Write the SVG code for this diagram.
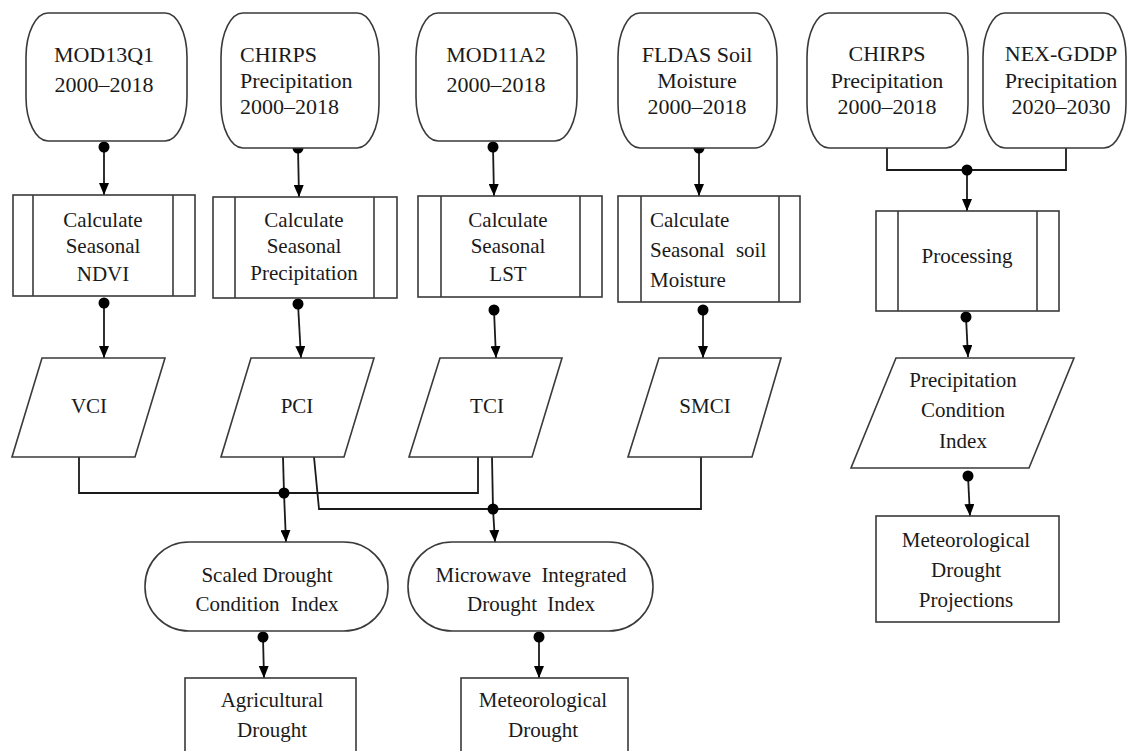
<svg xmlns="http://www.w3.org/2000/svg" width="1127" height="751" viewBox="0 0 1127 751" font-family="'Liberation Serif', 'Times New Roman', serif">
<style>
.sh{fill:#fff;stroke:#3a3a3a;stroke-width:1.6}
.ln{fill:none;stroke:#1a1a1a;stroke-width:1.8}
.ar{fill:none;stroke:#1a1a1a;stroke-width:1.8;marker-end:url(#ah)}
.dot{fill:#000}
text{font-size:21px;fill:#1a1a1a}
.t22{font-size:22px}
.c{text-anchor:middle}
</style>
<defs>
<marker id="ah" viewBox="0 0 12 10" refX="12" refY="5" markerWidth="12" markerHeight="10" markerUnits="userSpaceOnUse" orient="auto">
<path d="M0,0 L12,5 L0,10 z" fill="#000"/>
</marker>
</defs>
<rect width="1127" height="751" fill="#fff"/>

<g id="connectors">
<line class="ar" x1="104" y1="147" x2="104" y2="195"/><circle class="dot" cx="104" cy="147" r="5.5"/>
<line class="ar" x1="298" y1="148" x2="299" y2="197"/><circle class="dot" cx="298" cy="148" r="5.5"/>
<line class="ar" x1="493" y1="147" x2="494" y2="196"/><circle class="dot" cx="493" cy="147" r="5.5"/>
<line class="ar" x1="699" y1="148" x2="699" y2="196"/><circle class="dot" cx="699" cy="148" r="5.5"/>
<path class="ln" d="M887,141 V170 H1066 V141"/>
<line class="ar" x1="967" y1="170" x2="967" y2="211"/><circle class="dot" cx="967" cy="170" r="5.5"/>
<line class="ar" x1="104" y1="303" x2="104" y2="358"/><circle class="dot" cx="104" cy="303" r="5.5"/>
<line class="ar" x1="298" y1="304" x2="301" y2="358"/><circle class="dot" cx="298" cy="304" r="5.5"/>
<line class="ar" x1="494" y1="310" x2="496" y2="358"/><circle class="dot" cx="494" cy="310" r="5.5"/>
<line class="ar" x1="703" y1="310" x2="703" y2="358"/><circle class="dot" cx="703" cy="310" r="5.5"/>
<line class="ar" x1="966" y1="317" x2="968" y2="357"/><circle class="dot" cx="966" cy="317" r="5.5"/>
<path class="ln" d="M79,457 V493 H478 V457"/>
<line class="ln" x1="283" y1="457" x2="284" y2="493"/>
<line class="ar" x1="284" y1="493" x2="286" y2="542"/><circle class="dot" cx="284" cy="493" r="5.5"/>
<path class="ln" d="M314,457 L319,509 H701 V457"/>
<line class="ln" x1="492" y1="457" x2="493" y2="509"/>
<line class="ar" x1="493" y1="509" x2="495" y2="542"/><circle class="dot" cx="493" cy="509" r="5.5"/>
<line class="ar" x1="263" y1="637" x2="264" y2="678"/><circle class="dot" cx="263" cy="637" r="5.5"/>
<line class="ar" x1="539" y1="637" x2="539" y2="678"/><circle class="dot" cx="539" cy="637" r="5.5"/>
<line class="ar" x1="968" y1="476" x2="970" y2="516"/><circle class="dot" cx="968" cy="476" r="5.5"/>
</g>

<g id="mod13q1"><rect class="sh" x="26" y="13" width="161" height="128" rx="22" ry="44"/>
<text class="t22 c" x="104" y="62">MOD13Q1</text><text class="t22 c" x="104" y="92">2000–2018</text></g>
<g id="chirps1"><rect class="sh" x="221" y="13" width="158" height="135" rx="22" ry="44"/>
<text class="t22" x="240" y="62">CHIRPS</text><text class="t22" x="240" y="88">Precipitation</text><text class="t22" x="240" y="114">2000–2018</text></g>
<g id="mod11a2"><rect class="sh" x="416" y="13" width="161" height="128" rx="22" ry="44"/>
<text class="t22 c" x="496" y="62">MOD11A2</text><text class="t22 c" x="496" y="92">2000–2018</text></g>
<g id="fldas"><rect class="sh" x="618" y="13" width="159" height="135" rx="22" ry="44"/>
<text class="t22 c" x="697" y="62">FLDAS Soil</text><text class="t22 c" x="697" y="88">Moisture</text><text class="t22 c" x="697" y="114">2000–2018</text></g>
<g id="chirps2"><rect class="sh" x="807" y="13" width="161" height="135" rx="22" ry="44"/>
<text class="t22 c" x="887" y="61">CHIRPS</text><text class="t22 c" x="887" y="88">Precipitation</text><text class="t22 c" x="887" y="114">2000–2018</text></g>
<g id="nexgddp"><rect class="sh" x="983" y="13" width="143" height="135" rx="22" ry="44"/>
<text class="t22 c" x="1061" y="61">NEX-GDDP</text><text class="t22 c" x="1061" y="88">Precipitation</text><text class="t22 c" x="1061" y="114">2020–2030</text></g>

<g id="calc-ndvi"><rect class="sh" x="13" y="195" width="182" height="101"/><line class="sh" x1="33" y1="195" x2="33" y2="296"/><line class="sh" x1="173" y1="195" x2="173" y2="296"/>
<text class="c" x="103" y="227">Calculate</text><text class="c" x="103" y="253">Seasonal</text><text class="c" x="103" y="281">NDVI</text></g>
<g id="calc-precip"><rect class="sh" x="213" y="197" width="184" height="101"/><line class="sh" x1="235" y1="197" x2="235" y2="298"/><line class="sh" x1="374" y1="197" x2="374" y2="298"/>
<text class="c" x="304" y="227">Calculate</text><text class="c" x="304" y="253">Seasonal</text><text class="c" x="304" y="280">Precipitation</text></g>
<g id="calc-lst"><rect class="sh" x="418" y="196" width="184" height="101"/><line class="sh" x1="441" y1="196" x2="441" y2="297"/><line class="sh" x1="580" y1="196" x2="580" y2="297"/>
<text class="c" x="508" y="227">Calculate</text><text class="c" x="508" y="253">Seasonal</text><text class="c" x="508" y="281">LST</text></g>
<g id="calc-soil"><rect class="sh" x="618" y="196" width="182" height="106"/><line class="sh" x1="641" y1="196" x2="641" y2="302"/><line class="sh" x1="779" y1="196" x2="779" y2="302"/>
<text x="650" y="227">Calculate</text><text x="650" y="257" word-spacing="6">Seasonal soil</text><text x="650" y="287">Moisture</text></g>
<g id="processing"><rect class="sh" x="876" y="211" width="183" height="100"/><line class="sh" x1="898" y1="211" x2="898" y2="311"/><line class="sh" x1="1037" y1="211" x2="1037" y2="311"/>
<text class="c" x="967" y="263">Processing</text></g>

<g id="vci"><polygon class="sh" points="42,358 165,358 135,457 12,457"/><text class="c" x="89" y="413">VCI</text></g>
<g id="pci"><polygon class="sh" points="251,358 374,358 344,457 221,457"/><text class="c" x="297" y="413">PCI</text></g>
<g id="tci"><polygon class="sh" points="440,358 562,358 532,457 409,457"/><text class="c" x="487" y="413">TCI</text></g>
<g id="smci"><polygon class="sh" points="659,358 781,358 752,457 628,457"/><text class="c" x="705" y="413">SMCI</text></g>
<g id="pci-index"><polygon class="sh" points="896,358 1074,358 1029,468 851,468"/>
<text class="c" x="963" y="387">Precipitation</text><text class="c" x="963" y="417">Condition</text><text class="c" x="963" y="448">Index</text></g>

<g id="sdci"><rect class="sh" x="145" y="542" width="243" height="89" rx="44" ry="44"/>
<text class="c" x="267" y="582">Scaled Drought</text><text class="c" x="267" y="611" word-spacing="6">Condition Index</text></g>
<g id="midi"><rect class="sh" x="408" y="542" width="245" height="89" rx="44" ry="44"/>
<text class="c" x="531" y="582" word-spacing="5">Microwave Integrated</text><text class="c" x="531" y="611" word-spacing="5">Drought Index</text></g>

<g id="agri"><rect class="sh" x="185" y="678" width="171" height="90"/>
<text class="c" x="272" y="707">Agricultural</text><text class="c" x="272" y="737">Drought</text></g>
<g id="met"><rect class="sh" x="461" y="678" width="167" height="90"/>
<text class="c" x="543" y="707">Meteorological</text><text class="c" x="543" y="737">Drought</text></g>
<g id="met-proj"><rect class="sh" x="876" y="516" width="183" height="106"/>
<text class="c" x="966" y="547">Meteorological</text><text class="c" x="966" y="577">Drought</text><text class="c" x="966" y="607">Projections</text></g>
</svg>
